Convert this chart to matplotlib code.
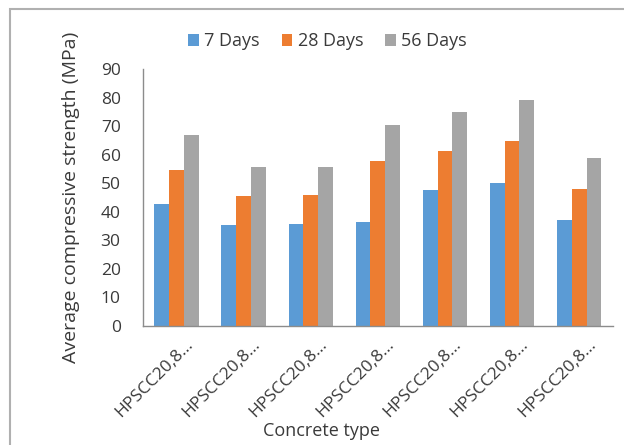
import matplotlib

matplotlib.use("Agg")
import matplotlib.pyplot as plt
import matplotlib.transforms as mtrans
from matplotlib.patches import Rectangle
import numpy as np

plt.rcParams["font.family"] = ["Open Sans", "DejaVu Sans"]

categories = ["HPSCC20,8…"] * 7
days_7 = [42.8, 35.2, 35.6, 36.2, 47.5, 50.1, 37.1]
days_28 = [54.6, 45.4, 46.0, 57.7, 61.3, 64.8, 47.9]
days_56 = [66.9, 55.5, 55.5, 70.4, 75.0, 79.0, 58.7]
series_names = ["7 Days", "28 Days", "56 Days"]
colors = ["#5B9BD5", "#ED7D31", "#A5A5A5"]
TXT = "#3a3a3a"

fig = plt.figure(figsize=(6.24, 4.45), dpi=100)
ax = fig.add_axes([0.229, 0.268, 0.753, 0.577])

x = np.arange(len(categories))
w = 0.22
for i, (vals, name, c) in enumerate(zip([days_7, days_28, days_56], series_names, colors)):
    ax.bar(x + (i - 1) * w, vals, width=w, color=c, label=name)

ax.set_xlim(-0.5, len(categories) - 0.5)
ax.set_ylim(0, 90)
ax.set_yticks(range(0, 91, 10))
ax.set_xticks(x)
ax.set_xticklabels(categories, rotation=45, ha="right", va="center",
                   rotation_mode="anchor", fontsize=12.5, color=TXT)
ax.tick_params(axis="both", length=0, labelcolor=TXT)
ax.tick_params(axis="y", labelsize=12.5, pad=16)
ax.tick_params(axis="x", pad=6)
shift = mtrans.ScaledTranslation(14 / 100, -8 / 100, fig.dpi_scale_trans)
for lab in ax.get_xticklabels():
    lab.set_transform(lab.get_transform() + shift)
for s in ["top", "right"]:
    ax.spines[s].set_visible(False)
for s in ["left", "bottom"]:
    ax.spines[s].set_color("#8c8c8c")
    ax.spines[s].set_linewidth(1.0)

ax.set_ylabel("Average compressive strength (MPa)", fontsize=14, color=TXT, labelpad=15)
ax.set_xlabel("Concrete type", fontsize=13, color=TXT, va="center")
ax.xaxis.set_label_coords(0.38, -0.41)

fig.legend(loc="center", bbox_to_anchor=(0.525, 0.907), ncol=3, frameon=False,
           fontsize=13, handlelength=0.6, handleheight=0.6, handletextpad=0.3,
           columnspacing=1.2, labelcolor=TXT)

# chart area border
fig.patches.append(Rectangle((10 / 624, -0.1), 1.2, 1 - 9 / 445 + 0.1,
                             transform=fig.transFigure, fill=False,
                             edgecolor="#b0b0b0", linewidth=1.5))

fig.savefig("out.png", dpi=100)
